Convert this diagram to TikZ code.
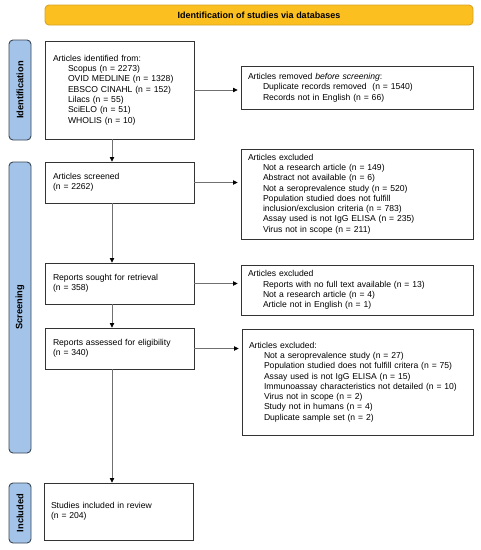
\documentclass[tikz,border=0pt]{standalone}
\usepackage{fontspec}
\setmainfont{Liberation Sans}
\usetikzlibrary{arrows.meta,calc}
\definecolor{bannerfill}{HTML}{FBBF1F}
\definecolor{bannerdraw}{HTML}{D9A423}
\definecolor{sidefill}{HTML}{A3C3E8}
\definecolor{sidedraw}{HTML}{3A4757}
\definecolor{boxdraw}{HTML}{333333}
\definecolor{arrowline}{HTML}{707070}
\newcommand{\ind}{\hspace*{15pt}}
\begin{document}
\begin{tikzpicture}[x=1pt,y=-1pt,
  every node/.style={font=\fontsize{8.6}{10.3}\selectfont},
  stagebox/.style={draw=boxdraw, line width=0.9pt, rectangle, inner sep=0pt, align=left},
  sidebar/.style={draw=sidedraw, fill=sidefill, line width=0.9pt, rounded corners=4pt, minimum width=22pt, inner sep=0pt},
  sidelabel/.style={rotate=90, font=\fontsize{9.3}{11}\selectfont\bfseries},
  flow/.style={draw=arrowline, line width=0.7pt, -{Triangle[width=4.5pt,length=4.5pt,fill=black,color=black]}}
  ]
\useasboundingbox (0,0) rectangle (481,550);
\fill[white] (0,0) rectangle (481,550);

% banner
\node[draw=bannerdraw, fill=bannerfill, line width=0.9pt, rounded corners=4pt, minimum width=428pt, minimum height=20pt, inner sep=0pt, font=\fontsize{9}{11}\selectfont\bfseries] (banner) at (259,15) {Identification of studies via databases};

% side bars
\node[sidebar, minimum height=100pt] (sid) at (20,90) {};
\node[sidelabel] (sidt) at (sid.center) {Identification};
\node[sidebar, minimum height=291pt] (sscr) at (20,307.5) {};
\node[sidelabel] (sscrt) at (sscr.center) {Screening};
\node[sidebar, minimum height=60pt] (sinc) at (20,513) {};
\node[sidelabel] (sinct) at (sinc.center) {Included};

% left boxes
\node[stagebox, minimum width=149pt, minimum height=98pt, text width=133pt] (ident) at (119.5,90)
 {Articles identified from:\\
  \ind Scopus (n = 2273)\\
  \ind OVID MEDLINE (n = 1328)\\
  \ind EBSCO CINAHL (n = 152)\\
  \ind Lilacs (n = 55)\\
  \ind SciELO (n = 51)\\
  \ind WHOLIS (n = 10)};
\node[stagebox, minimum width=149pt, minimum height=41pt, text width=133pt] (scr) at (119.5,182.5)
 {Articles screened\\(n = 2262)};
\node[stagebox, minimum width=149pt, minimum height=41pt, text width=133pt] (sought) at (119.5,283.5)
 {Reports sought for retrieval\\(n = 358)};
\node[stagebox, minimum width=149pt, minimum height=41pt, text width=133pt] (assess) at (119.5,348.5)
 {Reports assessed for eligibility\\(n = 340)};
\node[stagebox, minimum width=149pt, minimum height=57pt, text width=135pt] (incl) at (118.5,511.5)
 {Studies included in review\\(n = 204)};

% right boxes
\node[stagebox, minimum width=232pt, minimum height=43pt, text width=218pt] (rem) at (357,87.5)
 {Articles removed \emph{before screening}:\\
  \ind Duplicate records removed\ \ (n = 1540)\\
  \ind Records not in English (n = 66)};
\node[stagebox, minimum width=232pt, minimum height=90pt, text width=218pt] (exc1) at (357,194)
 {Articles excluded\\
  \ind Not a research article (n = 149)\\
  \ind Abstract not available (n = 6)\\
  \ind Not a seroprevalence study (n = 520)\\
  \ind Population studied does not fulfill\\
  \ind inclusion/exclusion criteria (n = 783)\\
  \ind Assay used is not IgG ELISA (n = 235)\\
  \ind Virus not in scope (n = 211)};
\node[stagebox, minimum width=232pt, minimum height=50pt, text width=218pt] (exc2) at (357,290)
 {Articles excluded\\
  \ind Reports with no full text available (n = 13)\\
  \ind Not a research article (n = 4)\\
  \ind Article not in English (n = 1)};
\node[stagebox, minimum width=231pt, minimum height=106pt, text width=217pt] (exc3) at (357.5,382)
 {Articles excluded:\\
  \ind Not a seroprevalence study (n = 27)\\
  \ind Population studied does not fulfill critera (n = 75)\\
  \ind Assay used is not IgG ELISA (n = 15)\\
  \ind Immunoassay characteristics not detailed (n = 10)\\
  \ind Virus not in scope (n = 2)\\
  \ind Study not in humans (n = 4)\\
  \ind Duplicate sample set (n = 2)};

% connectors
\coordinate (ax) at (112,0);
\draw[flow] (ident.south -| ax) -- (scr.north -| ax);
\draw[flow] (scr.south -| ax) -- (sought.north -| ax);
\draw[flow] (sought.south -| ax) -- (assess.north -| ax);
\draw[flow] (assess.south -| ax) -- (incl.north -| ax);

\draw[flow, shorten >=3pt] (ident.east) -- (ident.east -| rem.west);
\draw[flow, shorten >=3pt] (scr.east) -- (scr.east -| exc1.west);
\draw[flow, shorten >=3pt] (sought.east) -- (sought.east -| exc2.west);
\draw[flow, shorten >=3pt] (assess.east) -- (assess.east -| exc3.west);
\end{tikzpicture}
\end{document}
